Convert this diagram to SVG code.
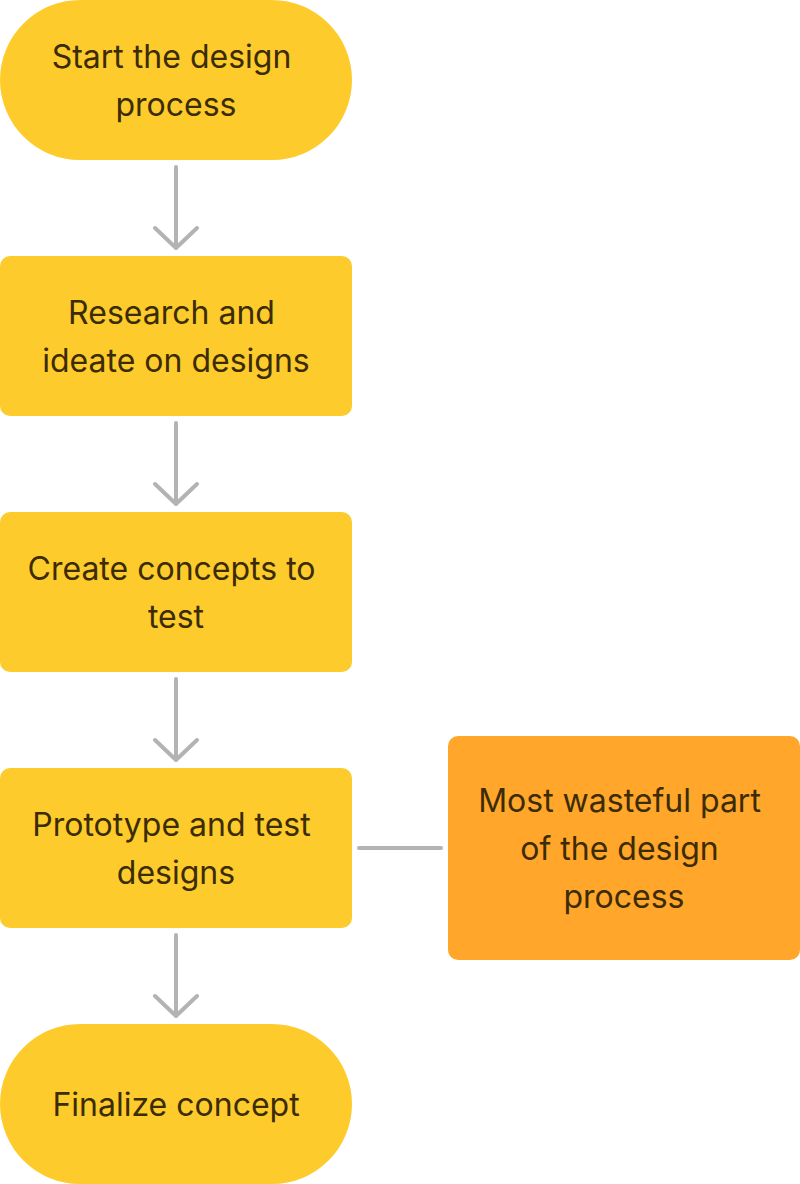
<svg xmlns="http://www.w3.org/2000/svg" width="800" height="1184" viewBox="0 0 800 1184">
<style>
.n{fill:#FDCB2B}
.o{fill:#FFA62B}
.t{font-family:Inter,"Noto Sans",sans-serif;font-size:32px;fill:#3B2C05;text-anchor:middle}
.c{stroke:#B3B3B3;stroke-width:4;stroke-linecap:round;stroke-linejoin:round;fill:none}
</style>
<rect width="800" height="1184" fill="#fff"/>
<g id="connectors">
<path class="c" d="M176 167V248M155 228L176 248L197 228"/>
<path class="c" d="M176 423V504M155 484L176 504L197 484"/>
<path class="c" d="M176 679V760M155 740L176 760L197 740"/>
<path class="c" d="M176 935V1016M155 996L176 1016L197 996"/>
<path class="c" d="M359 848H441"/>
</g>
<g id="start"><rect class="n" x="0" y="0" width="352" height="160" rx="80"/>
<text class="t" x="171.5" y="68">Start the design</text><text class="t" x="176" y="116">process</text></g>
<g id="research"><rect class="n" x="0" y="256" width="352" height="160" rx="10"/>
<text class="t" x="171.5" y="324">Research and</text><text class="t" x="176" y="372">ideate on designs</text></g>
<g id="create"><rect class="n" x="0" y="512" width="352" height="160" rx="10"/>
<text class="t" x="171.5" y="580">Create concepts to</text><text class="t" x="176" y="628">test</text></g>
<g id="prototype"><rect class="n" x="0" y="768" width="352" height="160" rx="10"/>
<text class="t" x="171.5" y="836">Prototype and test</text><text class="t" x="176" y="884">designs</text></g>
<g id="finalize"><rect class="n" x="0" y="1024" width="352" height="160" rx="80"/>
<text class="t" x="176" y="1116">Finalize concept</text></g>
<g id="wasteful"><rect class="o" x="448" y="736" width="352" height="224" rx="10"/>
<text class="t" x="619.5" y="812">Most wasteful part</text><text class="t" x="619.5" y="860">of the design</text><text class="t" x="624" y="908">process</text></g>
</svg>
